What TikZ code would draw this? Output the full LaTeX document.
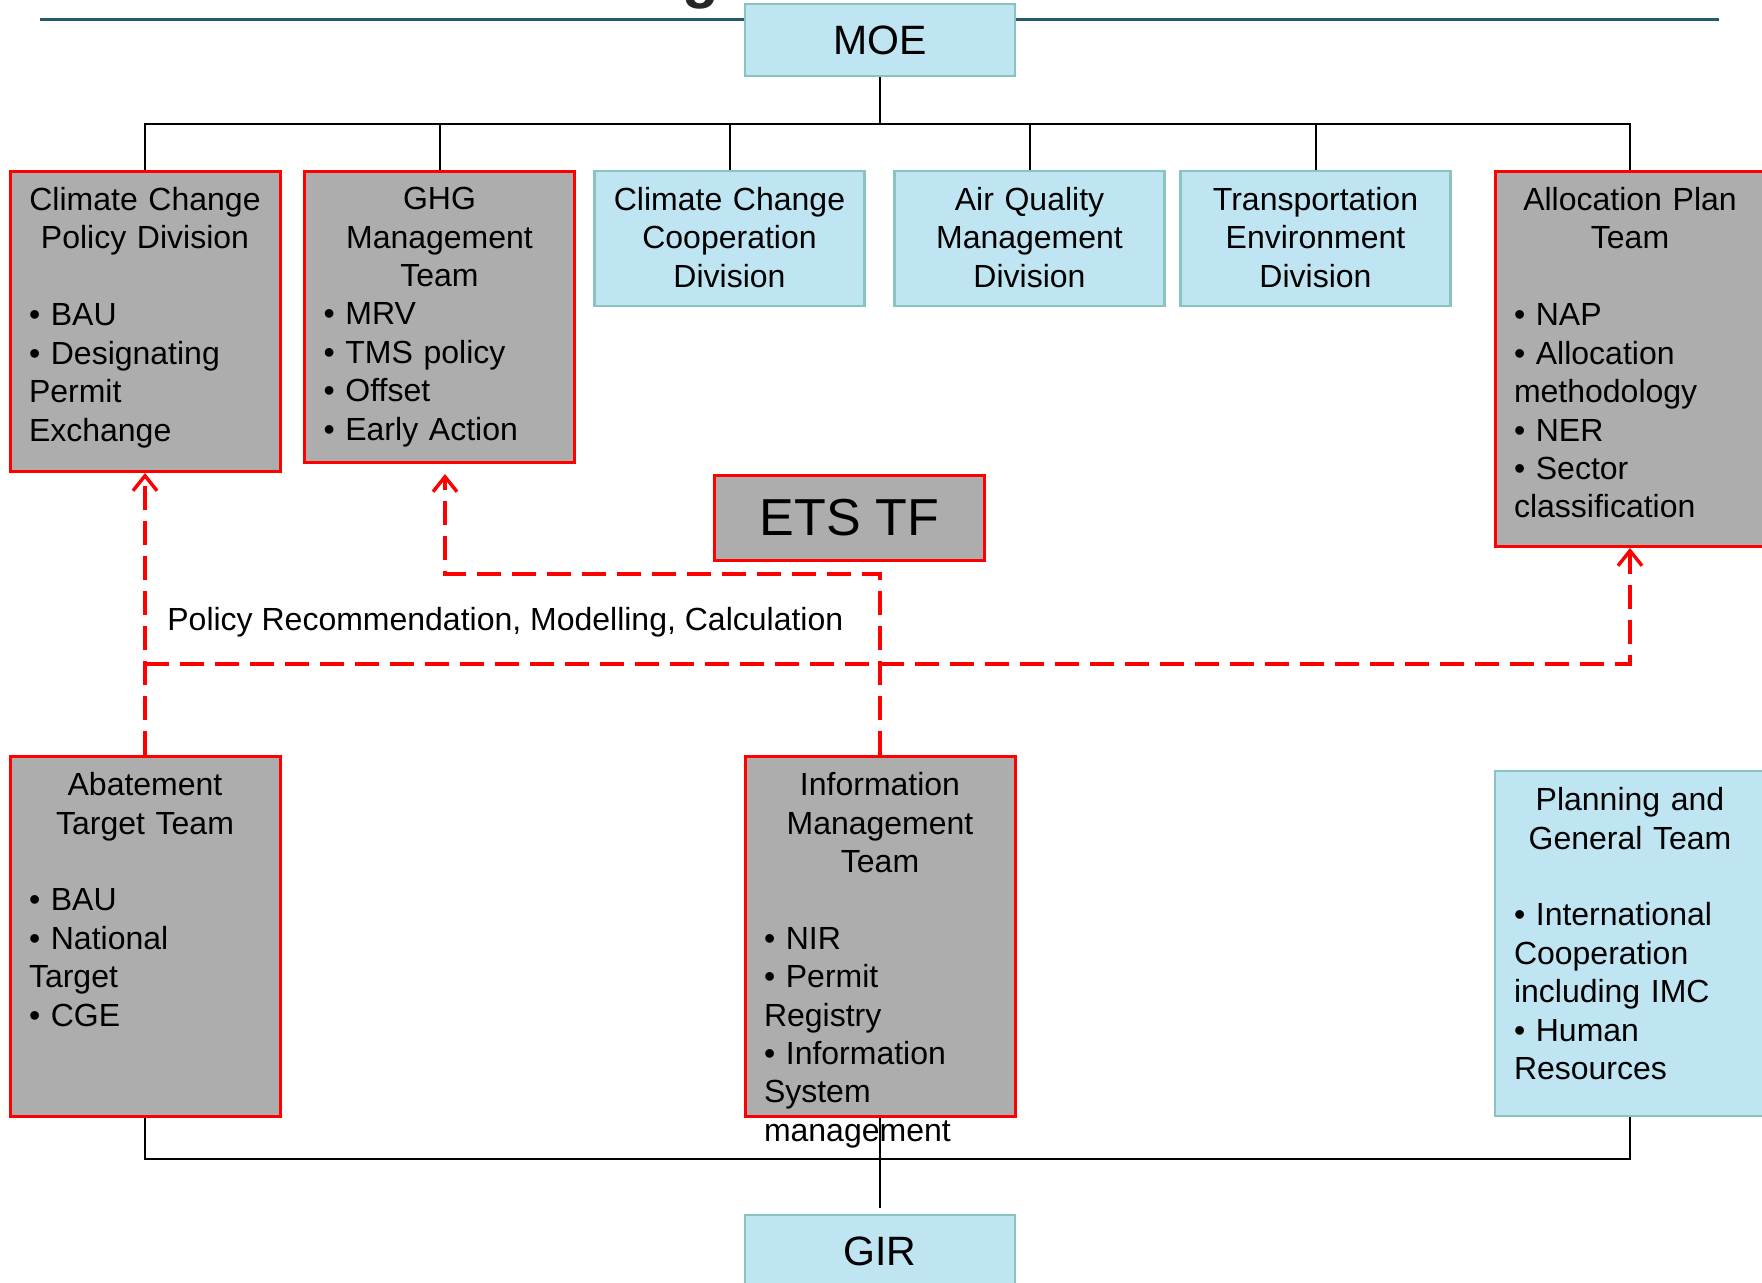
\documentclass[tikz,border=0pt]{standalone}
\usepackage{fontspec}
\setmainfont{Liberation Sans}
\usepackage{tikz}
\usetikzlibrary{positioning,arrows.meta}
\definecolor{boxgray}{RGB}{173,173,173}
\definecolor{boxblue}{RGB}{190,229,241}
\definecolor{boxedge}{RGB}{137,196,192}
\definecolor{rulecolor}{RGB}{35,90,112}
\newcommand{\bodyfont}{\fontsize{16}{19.2}\selectfont}
\newcommand{\boxw}{135pt}
\tikzset{
  graybox/.style={draw=red, fill=boxgray, line width=1.5pt, minimum width=\boxw, inner sep=0pt},
  bluebox/.style={draw=boxedge, fill=boxblue, line width=1.2pt, minimum width=\boxw, inner sep=0pt},
  boxtext/.style={text width=116pt, align=left, inner sep=0pt, font=\bodyfont},
  link/.style={black, line width=1pt},
  flow/.style={red, line width=1.7pt, dash pattern=on 12pt off 5.5pt},
  flowtip/.style={-{Straight Barb[length=7.5pt,width=12pt]}}
}

\begin{document}
\begin{tikzpicture}[x=0.5pt, y=-0.5pt]
\useasboundingbox (0,0) rectangle (1762,1282);
\fill[white] (0,0) rectangle (1762,1282);
% cut title and rule
\node[anchor=base west, inner sep=0pt, font=\fontsize{30}{36}\selectfont\bfseries, text=black!85] (titlecut) at (682,-4) {g};
\draw[rulecolor, line width=1.5pt] (40,19) -- (1719,19);
% ministry
\node[bluebox, minimum height=36pt, font=\fontsize{20.5}{24}\selectfont] (moe) at (880,40) {MOE};
% first row
\node[graybox, anchor=north, minimum height=150pt] (ccpd) at (145,170) {};
\node[boxtext, below=8.5pt of ccpd.north] (ccpdtext) {{\centering Climate Change\\Policy Division\par}\vskip19.2pt
  • BAU\\• Designating\\Permit\\Exchange};
\node[graybox, anchor=north, minimum height=145.5pt] (ghg) at (439.5,170) {};
\node[boxtext, below=8.5pt of ghg.north] (ghgtext) {{\centering GHG\\Management\\Team\par}
  • MRV\\• TMS policy\\• Offset\\• Early Action};
\node[bluebox, anchor=north, minimum height=67.5pt] (ccc) at (729.5,170) {};
\node[boxtext, align=center, below=8.5pt of ccc.north] (ccctext) {Climate Change\\Cooperation\\Division};
\node[bluebox, anchor=north, minimum height=67.5pt] (aqm) at (1029.5,170) {};
\node[boxtext, align=center, below=8.5pt of aqm.north] (aqmtext) {Air Quality\\Management\\Division};
\node[bluebox, anchor=north, minimum height=67.5pt] (ted) at (1315.5,170) {};
\node[boxtext, align=center, below=8.5pt of ted.north] (tedtext) {Transportation\\Environment\\Division};
\node[graybox, anchor=north, minimum height=187.5pt] (alloc) at (1630,170) {};
\node[boxtext, below=8.5pt of alloc.north] (alloctext) {{\centering Allocation Plan\\Team\par}\vskip19.2pt
  • NAP\\• Allocation\\methodology\\• NER\\• Sector\\classification};
% task force
\node[graybox, minimum height=42.5pt, font=\fontsize{26}{30}\selectfont] (ets) at (849.5,517.5) {ETS TF};
% second row
\node[graybox, anchor=north, minimum height=180pt] (abat) at (145,755) {};
\node[boxtext, below=8.5pt of abat.north] (abattext) {{\centering Abatement\\Target Team\par}\vskip19.2pt
  • BAU\\• National\\Target\\• CGE};
\node[graybox, anchor=north, minimum height=180pt] (info) at (880,755) {};
\node[boxtext, below=8.5pt of info.north] (infotext) {{\centering Information\\Management\\Team\par}\vskip19.2pt
  • NIR\\• Permit\\Registry\\• Information\\System\\management};
\node[bluebox, anchor=north, minimum height=172.5pt] (plan) at (1630,770) {};
\node[boxtext, below=8.5pt of plan.north] (plantext) {{\centering Planning and\\General Team\par}\vskip19.2pt
  • International\\Cooperation\\including IMC\\• Human\\Resources};
\node[bluebox, minimum height=36pt, font=\fontsize{20.5}{24}\selectfont] (gir) at (880,1251) {GIR};
% tree lines
\coordinate (bus) at (880,124);
\coordinate (busb) at (880,1159);
\draw[link] (moe.south) -- (bus);
\draw[link] (ccpd.north) |- (bus) -| (alloc.north);
\foreach \b in {ghg,ccc,aqm,ted}
  \draw[link] (\b.north) -- (\b.north |- bus);
\draw[link] (abat.south) |- (busb) -| (plan.south);
\draw[link, shorten >=3pt] (info.south) -- (gir.north);
% reporting lines
\coordinate (split) at (145,664);
\coordinate (turn) at (445,574);
\draw[flow, flowtip] (abat.north) -- (ccpd.south);
\draw[flow, flowtip] (split) -| (alloc.south);
\draw[flow, flowtip, shorten >=5pt] (info.north) |- (turn) -- (turn |- ghg.south);
\node[anchor=west, inner sep=0pt, font=\bodyfont] (flowlabel) at (167,622) {Policy Recommendation, Modelling, Calculation};
\end{tikzpicture}
\end{document}
